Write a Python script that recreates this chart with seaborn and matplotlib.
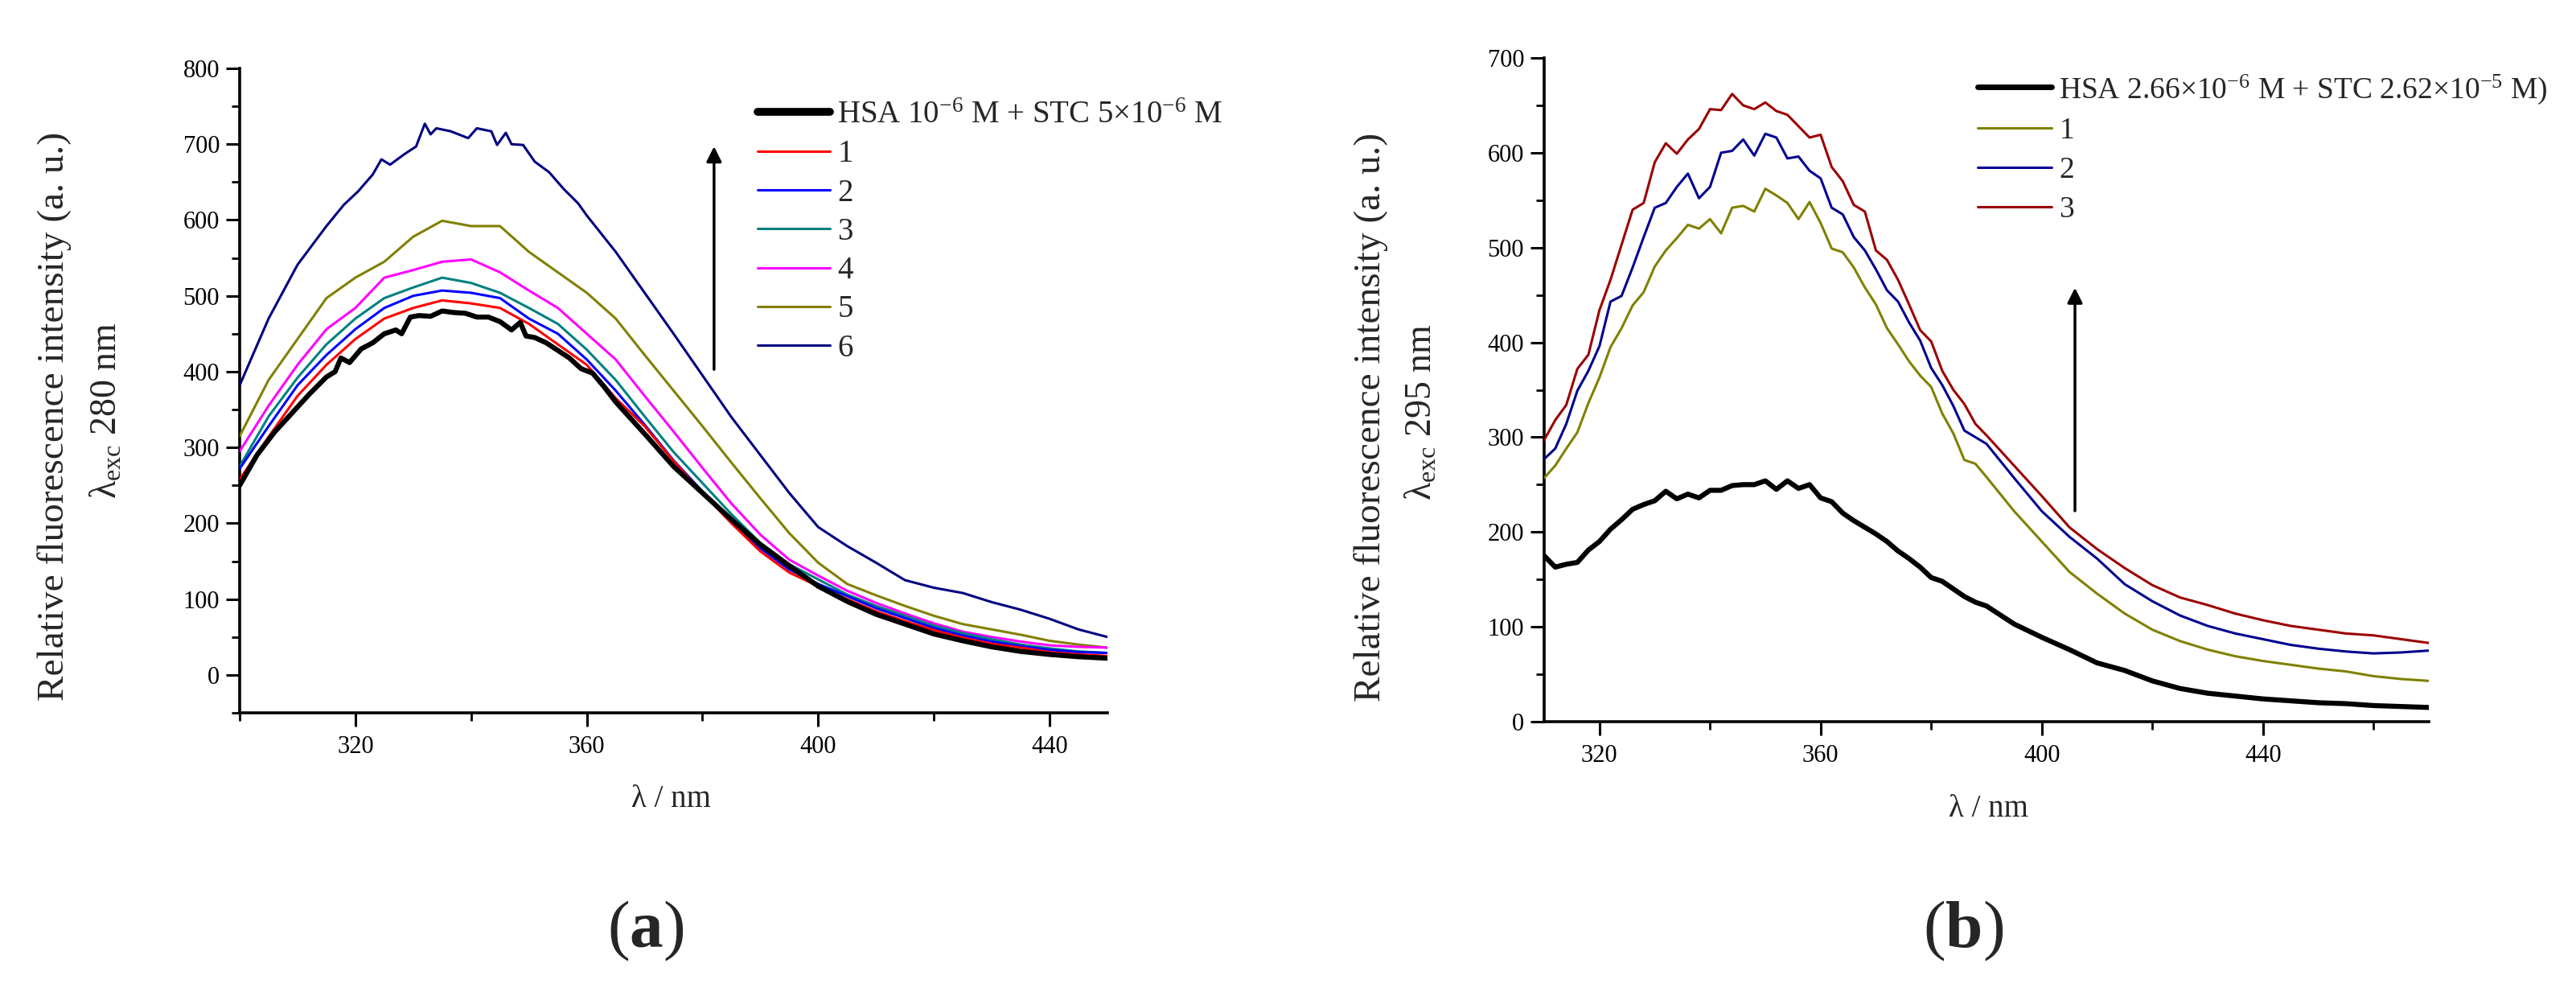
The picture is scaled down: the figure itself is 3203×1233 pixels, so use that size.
import numpy as np
import pandas as pd
import matplotlib
matplotlib.use("Agg")
import matplotlib.pyplot as plt
from matplotlib.ticker import MultipleLocator
import seaborn as sns

# panel (a): excitation 280 nm
wl_a = list(range(300, 451, 5))
a1 = [258, 314, 368, 409, 443, 470, 484, 494, 490, 484, 463, 436, 409, 365, 328, 282,
      240, 200, 163, 135, 117, 100, 84, 71, 59, 49, 41, 36, 30, 27, 25]
a2 = [272, 328, 382, 422, 456, 484, 500, 507, 504, 497, 470, 450, 416, 375, 330, 283,
      242, 202, 167, 139, 120, 104, 88, 75, 62, 52, 44, 38, 33, 30, 29]
a3 = [275, 341, 392, 436, 470, 497, 511, 524, 517, 504, 484, 463, 429, 389, 341, 294,
      253, 212, 174, 146, 126, 106, 91, 78, 65, 55, 47, 40, 35, 31, 29]
a4 = [295, 355, 409, 456, 484, 524, 534, 545, 548, 531, 507, 484, 450, 416, 368, 321,
      273, 226, 185, 152, 131, 111, 95, 81, 68, 57, 50, 44, 39, 37, 36]
a5 = [315, 389, 443, 497, 524, 545, 578, 599, 592, 592, 558, 531, 504, 470, 422, 375,
      328, 280, 233, 187, 148, 120, 105, 91, 78, 67, 60, 53, 45, 40, 36]

# the reference HSA trace and trace 6 are read more finely around the maximum
wl_hsa_a = [300, 303, 306, 309, 312, 315, 316.5, 317.5, 319, 321, 323, 325, 327, 328, 329.5,
            331, 333, 335, 337, 339, 341, 343, 345, 347, 348.5, 349.5, 351, 353, 355, 357,
            359, 361, 363, 365, 370, 375, 380, 385, 390, 395, 400, 405, 410, 415, 420, 425,
            430, 435, 440, 445, 450]
hsa_a = [250, 290, 320, 345, 370, 393, 400, 418, 412, 430, 438, 450, 455, 450, 472,
         474, 473, 480, 478, 477, 472, 472, 466, 455, 465, 447, 445, 438, 428, 418,
         404, 398, 380, 360, 318, 275, 240, 205, 172, 144, 117, 97, 80, 67, 54, 45,
         37, 31, 27, 24, 22]
wl_a6 = [300, 305, 310, 315, 318, 320.5, 323, 324.5, 326, 328.5, 330.5, 332, 333, 334,
         336.5, 339.5, 341, 343.5, 344.5, 346, 347, 349, 351, 353.5, 356, 358.5, 360, 365,
         370, 375, 380, 385, 390, 395, 400, 405, 410, 415, 420, 425, 430, 435, 440, 445, 450]
a6 = [382, 470, 541, 592, 620, 638, 660, 680, 673, 687, 697, 727, 713, 721,
      717, 708, 721, 717, 699, 715, 700, 699, 677, 663, 641, 622, 606, 558,
      504, 450, 395, 340, 290, 240, 195, 170, 148, 125, 115, 108, 96, 86, 74, 60, 50]

# panel (b): excitation 295 nm (2 nm steps up to 388, then 5 nm)
wl_b = list(range(310, 389, 2)) + list(range(390, 471, 5))
hsa_b = [175, 163, 166, 168, 181, 190, 203, 213, 224, 229, 233, 243, 235, 240, 236, 244,
         244, 249, 250, 250, 254, 245, 254, 246, 250, 236, 232, 220, 212, 205, 198, 190,
         180, 172, 163, 152, 148, 140, 132, 126,
         122, 103, 89, 76, 62, 54, 43, 35, 30, 27, 24, 22, 20, 19, 17, 16, 15]
b1 = [257, 270, 288, 305, 336, 363, 395, 415, 439, 453, 480, 497, 510, 524, 520, 530,
      515, 542, 544, 538, 562, 555, 547, 530, 548, 526, 499, 495, 479, 458, 440, 415,
      398, 380, 365, 353, 325, 304, 276, 272,
      258, 222, 190, 158, 135, 114, 97, 85, 76, 69, 64, 60, 56, 53, 48, 45, 43]
b2 = [277, 288, 314, 349, 370, 396, 443, 449, 479, 511, 542, 547, 564, 578, 552, 564,
      600, 602, 614, 597, 620, 616, 594, 596, 581, 573, 542, 535, 511, 497, 477, 455,
      443, 421, 402, 373, 355, 333, 307, 300,
      293, 257, 222, 195, 172, 145, 127, 112, 101, 93, 87, 81, 77, 74, 72, 73, 75]
b3 = [297, 318, 334, 372, 387, 434, 466, 503, 540, 547, 590, 610, 599, 614, 625, 646,
      645, 662, 650, 646, 653, 644, 640, 628, 616, 619, 585, 570, 545, 538, 497, 487,
      466, 440, 413, 401, 370, 350, 335, 314,
      302, 270, 238, 205, 182, 162, 144, 131, 123, 114, 107, 101, 97, 93, 91, 87, 83]

labels_a = [r"HSA 10$^{\mathrm{-6}}$ M + STC 5$\times$10$^{\mathrm{-6}}$ M", "1", "2", "3", "4", "5", "6"]
colors_a = ["black", "#FF0000", "#0000FF", "#008080", "#FF00FF", "#808000", "#000080"]
labels_b = [r"HSA 2.66$\times$10$^{\mathrm{-6}}$ M + STC 2.62$\times$10$^{\mathrm{-5}}$ M)", "1", "2", "3"]
colors_b = ["black", "#808000", "#000090", "#9B0000"]

sns.set_theme(style="ticks")
plt.rcParams['font.family'] = ['Liberation Serif', 'DejaVu Serif']
plt.rcParams['mathtext.fontset'] = 'custom'
plt.rcParams['mathtext.rm'] = 'Liberation Serif'
plt.rcParams['mathtext.it'] = 'Liberation Serif:italic'
plt.rcParams['mathtext.bf'] = 'Liberation Serif:bold'

W, H = 3203, 1233
fig = plt.figure(figsize=(W / 100, H / 100), dpi=100)


def px_axes(x0, x1, ytop, ybot):
    return fig.add_axes([x0 / W, 1 - ybot / H, (x1 - x0) / W, (ybot - ytop) / H])


def style_axes(ax, xlim, ylim):
    ax.set_xlim(*xlim)
    ax.set_ylim(*ylim)
    ax.xaxis.set_major_locator(MultipleLocator(40))
    ax.xaxis.set_minor_locator(MultipleLocator(20))
    ax.yaxis.set_major_locator(MultipleLocator(100))
    ax.yaxis.set_minor_locator(MultipleLocator(50))
    sns.despine(ax=ax)
    for s in ['left', 'bottom']:
        ax.spines[s].set_linewidth(2.6)
        ax.spines[s].set_color('black')
    ax.tick_params(which='major', direction='out', length=12, width=2.2, labelsize=22,
                   color='black', labelcolor='black')
    ax.tick_params(which='minor', direction='out', length=7, width=2.0, color='black')
    ax.tick_params(axis='x', which='major', pad=8)
    ax.tick_params(axis='y', which='major', pad=6)
    ax.set_xlabel("λ / nm", fontsize=28)
    ax.set_ylabel("")
    ax.grid(False)


def draw_panel(ax, series, labels, colors):
    # series: list of (wavelengths, intensities)
    rows = []
    for lab, (wl, vals) in zip(labels, series):
        rows.append(pd.DataFrame({'wl': wl, 'I': vals, 'series': lab}))
    df = pd.concat(rows, ignore_index=True)
    for i, (lab, col) in enumerate(zip(labels, colors)):
        sub = df[df['series'] == lab]
        sns.lineplot(data=sub, x='wl', y='I', ax=ax, color=col,
                     linewidth=4.5 if i == 0 else 2.2, label=lab, zorder=6 if i == 0 else 5 - i * 0.1)


# ---- panel (a)
ax1 = px_axes(298, 1377, 85, 886)
draw_panel(ax1, [(wl_hsa_a, hsa_a), (wl_a, a1), (wl_a, a2), (wl_a, a3), (wl_a, a4),
                 (wl_a, a5), (wl_a6, a6)], labels_a, colors_a)
style_axes(ax1, (300, 450), (-50, 800))
ax1.xaxis.set_label_coords(0.497, -0.111)
leg = ax1.legend(loc='upper left', bbox_to_anchor=(0.597, 0.95), frameon=False, fontsize=28,
                 handlelength=2.3, handletextpad=0.25, labelspacing=0.29,
                 borderpad=0, borderaxespad=0)
leg.get_lines()[0].set_linewidth(7)
ax1.annotate('', xy=(382, 700), xytext=(382, 400),
             arrowprops=dict(arrowstyle='-|>', lw=2.5, color='black', mutation_scale=28))

# ---- panel (b)
ax2 = px_axes(1920, 3020, 72, 897)
draw_panel(ax2, [(wl_b, hsa_b), (wl_b, b1), (wl_b, b2), (wl_b, b3)], labels_b, colors_b)
style_axes(ax2, (310, 470), (0, 700))
ax2.xaxis.set_label_coords(0.502, -0.109)
leg2 = ax2.legend(loc='upper left', bbox_to_anchor=(0.49, 0.978), frameon=False, fontsize=27,
                  handlelength=2.45, handletextpad=0.25, labelspacing=0.38,
                  borderpad=0, borderaxespad=0)
leg2.get_lines()[0].set_linewidth(5)
ax2.annotate('', xy=(406, 460), xytext=(406, 220),
             arrowprops=dict(arrowstyle='-|>', lw=2.5, color='black', mutation_scale=28))

# y labels (two lines each)
ylab = "Relative fluorescence intensity (a. u.)"
fig.text(68 / W, 1 - 517 / H, ylab, rotation=90, ha='center', va='center', fontsize=34)
fig.text(133 / W, 1 - 510 / H, "λ$_{\\mathrm{exc}}$ 280 nm", rotation=90, ha='center', va='center', fontsize=33)
fig.text(1705 / W, 1 - 518 / H, ylab, rotation=90, ha='center', va='center', fontsize=34)
fig.text(1768 / W, 1 - 512 / H, "λ$_{\\mathrm{exc}}$ 295 nm", rotation=90, ha='center', va='center', fontsize=33)

# panel letters
fig.text(803 / W, 1 - 1157 / H, r"($\mathbf{a}$)", ha='center', va='center', fontsize=60)
fig.text(2441 / W, 1 - 1157 / H, r"($\mathbf{b}$)", ha='center', va='center', fontsize=60)

fig.savefig("out.png", dpi=100, facecolor='white')
